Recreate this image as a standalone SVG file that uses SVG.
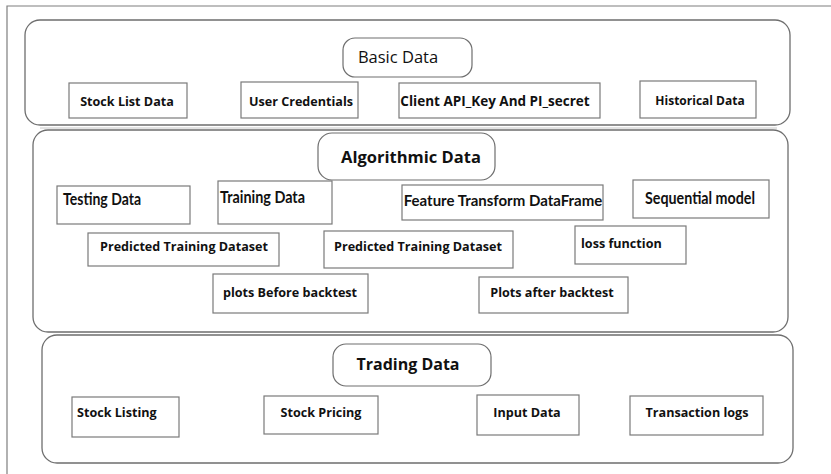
<svg xmlns="http://www.w3.org/2000/svg" width="831" height="474" viewBox="0 0 831 474">
<style>
.frame{fill:none;stroke:#7f7f7f;stroke-width:1.2}
.cont{fill:#fff;stroke:#6e6e6e;stroke-width:1.3}
.pill{fill:#fff;stroke:#6e6e6e;stroke-width:1.2}
.box{fill:#fff;stroke:#7a7a7a;stroke-width:1.2}
.t{font-family:"Open Sans","DejaVu Sans",sans-serif;font-weight:bold;font-size:12.6px;fill:#111}
.c{font-family:Lato,"Liberation Sans",sans-serif;font-weight:bold;font-size:17px;fill:#111}
.h{font-family:"Open Sans","DejaVu Sans",sans-serif;font-weight:bold;font-size:16px;fill:#111}
.mid{text-anchor:middle}
</style>
<rect width="831" height="474" fill="#fff"/>
<path class="frame" d="M7 474 V6 H831"/>
<g id="connectors"/>
<line x1="40" y1="128" x2="777" y2="128" stroke="#c8c8c8" stroke-width="1"/>

<g id="basic">
<rect class="cont" x="25" y="20" width="765" height="105" rx="15"/>
<g id="basic-title"><rect class="pill" x="343" y="38" width="129" height="39" rx="12"/>
<text x="398" y="63" class="mid" style="font-family:'Open Sans','DejaVu Sans',sans-serif;font-size:16.5px;fill:#111">Basic Data</text></g>
<g id="stock-list-data"><rect class="box" x="69" y="83" width="118" height="35"/><text class="t mid" x="127" y="106">Stock List Data</text></g>
<g id="user-credentials"><rect class="box" x="241" y="82" width="117" height="36"/><text class="t mid" x="301" y="106">User Credentials</text></g>
<g id="client-api"><rect class="box" x="399" y="83" width="201" height="35"/><text class="t mid" x="495" y="106" style="font-size:13.5px">Client API_Key And PI_secret</text></g>
<g id="historical-data"><rect class="box" x="640" y="81" width="116" height="37"/><text class="t mid" x="700" y="105" style="font-size:12px">Historical Data</text></g>
</g>

<g id="algorithmic">
<rect class="cont" x="33" y="130" width="755" height="202" rx="15"/>
<g id="algo-title"><rect class="pill" x="318" y="133" width="177" height="47" rx="14"/>
<text class="h mid" x="411" y="163" style="font-size:16.5px">Algorithmic Data</text></g>
<g id="testing-data"><rect class="box" x="57" y="186" width="133" height="38"/><text class="c" x="63" y="205" textLength="78" lengthAdjust="spacingAndGlyphs">Testing Data</text></g>
<g id="training-data"><rect class="box" x="218" y="181" width="114" height="43"/><text class="c" x="220" y="203" textLength="85" lengthAdjust="spacingAndGlyphs">Training Data</text></g>
<g id="feature-transform"><rect class="box" x="402" y="185" width="201" height="35"/><text class="c mid" x="503" y="206" style="font-size:15px">Feature Transform DataFrame</text></g>
<g id="sequential-model"><rect class="box" x="633" y="180" width="136" height="38"/><text class="c" x="645" y="204" textLength="110" lengthAdjust="spacingAndGlyphs">Sequential model</text></g>
<g id="predicted-1"><rect class="box" x="88" y="233" width="191" height="33"/><text class="t mid" x="184" y="251">Predicted Training Dataset</text></g>
<g id="predicted-2"><rect class="box" x="324" y="231" width="189" height="37"/><text class="t mid" x="418" y="251">Predicted Training Dataset</text></g>
<g id="loss-function"><rect class="box" x="575" y="226" width="111" height="38"/><text class="t" x="581" y="248">loss function</text></g>
<g id="plots-before"><rect class="box" x="213" y="274" width="155" height="39"/><text class="t mid" x="290" y="297">plots Before backtest</text></g>
<g id="plots-after"><rect class="box" x="479" y="277" width="149" height="36"/><text class="t mid" x="552" y="297">Plots after backtest</text></g>
</g>

<g id="trading">
<rect class="cont" x="42" y="335" width="751" height="128" rx="15"/>
<g id="trading-title"><rect class="pill" x="333" y="344" width="158" height="42" rx="13"/>
<text class="h mid" x="408" y="370">Trading Data</text></g>
<g id="stock-listing"><rect class="box" x="72" y="397" width="107" height="40"/><text class="t" x="77" y="417">Stock Listing</text></g>
<g id="stock-pricing"><rect class="box" x="264" y="396" width="114" height="38"/><text class="t mid" x="321" y="417">Stock Pricing</text></g>
<g id="input-data"><rect class="box" x="477" y="395" width="102" height="40"/><text class="t mid" x="527" y="417">Input Data</text></g>
<g id="transaction-logs"><rect class="box" x="630" y="396" width="133" height="39"/><text class="t mid" x="697" y="417">Transaction logs</text></g>
</g>
</svg>
